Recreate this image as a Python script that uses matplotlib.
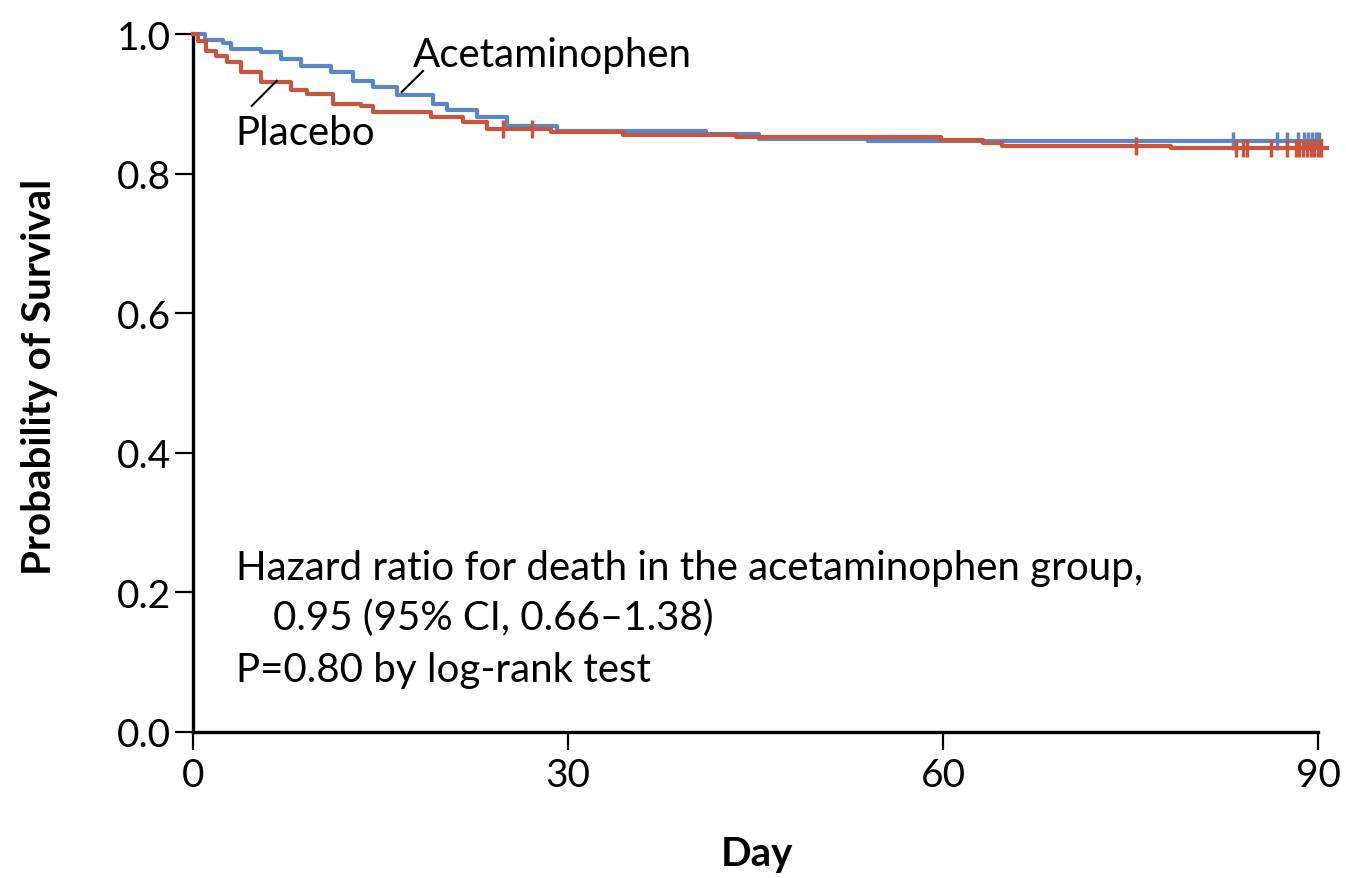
import numpy as np
import matplotlib
matplotlib.use("Agg")
import matplotlib.pyplot as plt

# Kaplan-Meier step data (day, survival)
acet_days = [0, 0.96, 2.4, 3.0, 5.4, 7.0, 8.6, 11.0, 12.8, 14.4, 16.3, 19.2, 20.3, 22.7,
             25.1, 29.1, 41.0, 45.3, 54.0, 90.2]
acet_surv = [1.0, 0.992, 0.987, 0.979, 0.974, 0.964, 0.954, 0.945, 0.933, 0.924, 0.913,
             0.900, 0.891, 0.881, 0.868, 0.861, 0.857, 0.850, 0.846, 0.846]
acet_censor = [83.2, 86.7, 87.5, 88.4, 88.9, 89.2, 89.5, 89.8, 90.1]

plac_days = [0, 0.4, 1.0, 1.8, 2.7, 3.8, 5.4, 7.8, 9.1, 11.2, 13.4, 14.4, 19.0, 21.6,
             23.5, 28.6, 34.4, 43.4, 59.8, 63.2, 64.7, 78.2, 90.7]
plac_surv = [1.0, 0.990, 0.976, 0.969, 0.960, 0.945, 0.931, 0.920, 0.914, 0.900, 0.897,
             0.888, 0.881, 0.874, 0.864, 0.860, 0.855, 0.852, 0.848, 0.844, 0.839, 0.836,
             0.836]
plac_censor = [24.8, 27.1, 75.4, 83.4, 84.0, 84.3, 86.2, 87.5, 88.2, 88.5, 88.8, 89.1,
               89.4, 89.7, 90.0, 90.2]

x_ticks = [0, 30, 60, 90]
y_ticks = [0.0, 0.2, 0.4, 0.6, 0.8, 1.0]

BLUE = "#5b87c6"
RED = "#c8553d"
FS = 29

plt.rcParams["font.family"] = ["Lato", "DejaVu Sans"]

W, H = 1346, 879
fig = plt.figure(figsize=(W / 100, H / 100), dpi=100)
ax = fig.add_axes([193 / W, 1 - 733 / H, (1318 - 193) / W, (733 - 35) / H])


def surv_at(days, surv, t):
    idx = np.searchsorted(days, t, side="right") - 1
    return np.asarray(surv)[idx]


for days, surv, cens, col in [(acet_days, acet_surv, acet_censor, BLUE),
                              (plac_days, plac_surv, plac_censor, RED)]:
    ax.step(days, surv, where="post", color=col, lw=3.0, clip_on=False, zorder=3)
    ax.plot(cens, surv_at(days, surv, cens), ls="none", marker="|", ms=13, mew=2.5,
            color=col, clip_on=False, zorder=3)

ax.set_xlim(0, 90)
ax.set_ylim(0, 1.0)
ax.set_xticks(x_ticks)
ax.set_yticks(y_ticks)
ax.set_yticklabels([f"{v:.1f}" for v in y_ticks])
for s in ["top", "right"]:
    ax.spines[s].set_visible(False)
for s in ["left", "bottom"]:
    ax.spines[s].set_linewidth(2.4)
ax.tick_params(direction="out", length=13, width=1.6, labelsize=28)
ax.tick_params(axis="y", pad=3)
ax.tick_params(axis="x", pad=5)

fig.text(40 / W, 1 - 377 / H, "Probability of Survival", rotation=90, ha="center",
         va="center", fontsize=FS, fontweight="bold")
fig.text(757 / W, 1 - 855 / H, "Day", ha="center", va="center", fontsize=FS,
         fontweight="bold")

# curve labels with short leader lines
ax.text(17.6, 0.954, "Acetaminophen", fontsize=FS, ha="left", va="baseline")
ax.plot([16.7, 18.4], [0.917, 0.947], color="black", lw=1.5, zorder=4)
ax.text(3.4, 0.842, "Placebo", fontsize=FS, ha="left", va="baseline")
ax.plot([4.7, 6.7], [0.897, 0.933], color="black", lw=1.5, zorder=4)

ax.text(3.4, 0.219, "Hazard ratio for death in the acetaminophen group,", fontsize=FS,
        ha="left", va="baseline")
ax.text(6.4, 0.148, "0.95 (95% CI, 0.66\u20131.38)", fontsize=FS, ha="left", va="baseline")
ax.text(3.4, 0.073, "P=0.80 by log-rank test", fontsize=FS, ha="left", va="baseline")

fig.savefig("out.png", dpi=100)
